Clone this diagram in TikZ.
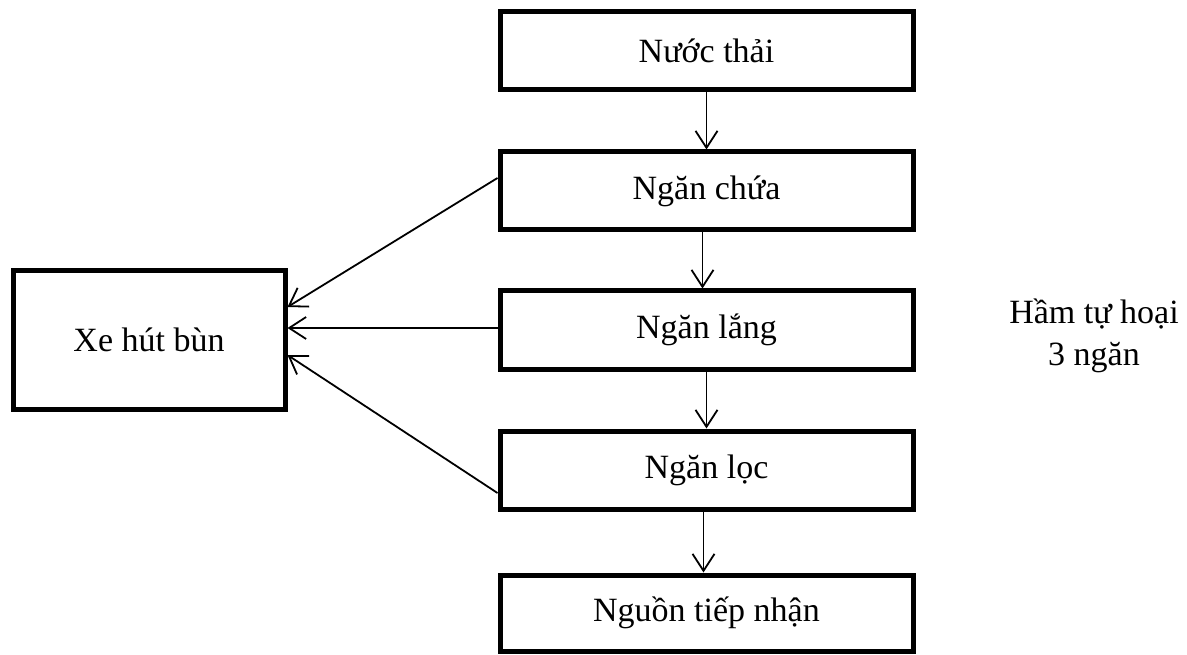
\documentclass[tikz,border=0pt]{standalone}
\usepackage{fontspec}
\setmainfont{Liberation Serif}
\usetikzlibrary{arrows.meta}

\begin{document}
\begin{tikzpicture}[x=1pt,y=-1pt,
  stage/.style={draw, line width=5pt, minimum width=413pt, minimum height=78pt,
    inner sep=0pt, font=\fontsize{34}{40}\selectfont},
  flow/.style={line width=1.8pt, -{Straight Barb[length=17pt,width=22pt,line width=1.8pt]}},
  note/.style={align=center, inner sep=0pt, font=\fontsize{34}{42}\selectfont}]
  \useasboundingbox (0,0) rectangle (1187,655);

  % the three chambers and their inlet/outlet
  \node[stage] (thai)  at (706.5,51)  {Nước thải};
  \node[stage] (chua)  at (706.5,191) {Ngăn chứa};
  \node[stage] (lang)  at (706.5,330) {Ngăn lắng};
  \node[stage] (loc)   at (706.5,470) {Ngăn lọc};
  \node[stage, minimum height=76pt] (nguon) at (706.5,613) {Nguồn tiếp nhận};

  % sludge truck
  \node[stage, minimum width=272pt, minimum height=139pt] (xe) at (149,340) {Xe hút bùn};

  % tank label
  \node[note] (ham) at (1094,336) {Hầm tự hoại\\3 ngăn};

  % main flow
  \draw[flow] (thai.south) -- (chua.north);
  \draw[flow] ([xshift=-4pt]chua.south) -- ([xshift=-4pt]lang.north);
  \draw[flow] (lang.south) -- (loc.north);
  \draw[flow] ([xshift=-3pt]loc.south) -- ([xshift=-3pt]nguon.north);

  % sludge removal
  \draw[flow] ([yshift=13pt]chua.west) -- ([yshift=33pt]xe.east);
  \draw[flow] ([yshift=2pt]lang.west) -- ([yshift=12pt]xe.east);
  \draw[flow] ([yshift=-23pt]loc.west) -- ([yshift=-15pt]xe.east);
\end{tikzpicture}
\end{document}
